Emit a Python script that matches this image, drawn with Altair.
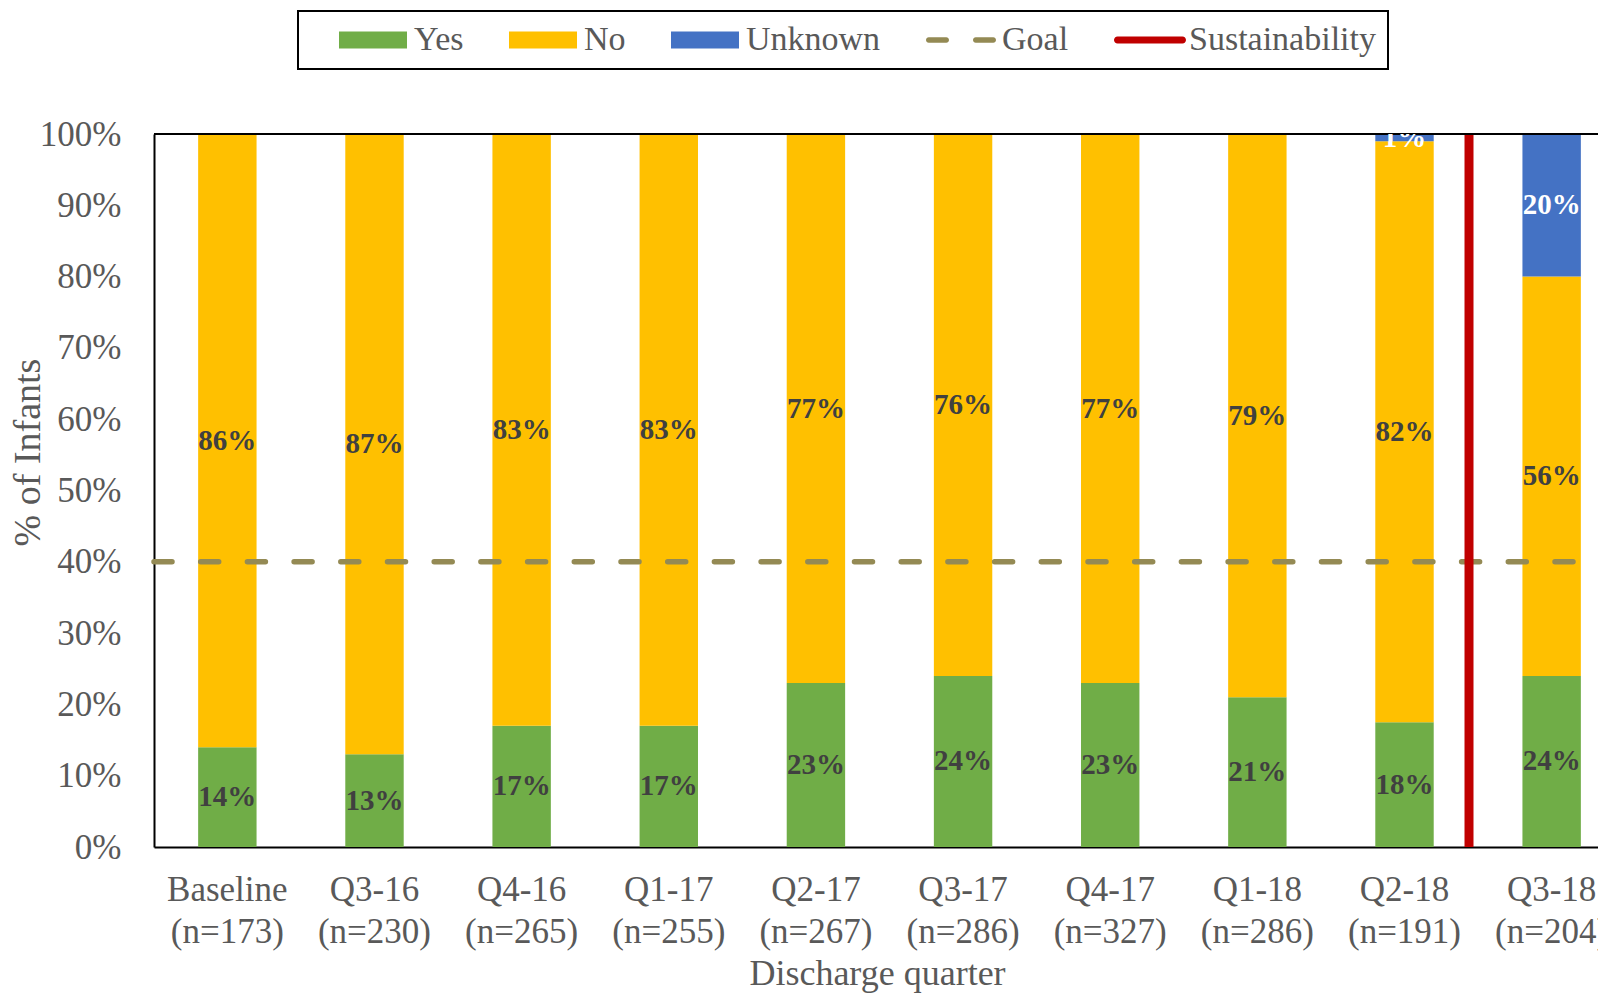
import altair as alt
import pandas as pd

# ---------------- data ----------------
QUARTERS = ["Baseline", "Q3-16", "Q4-16", "Q1-17", "Q2-17", "Q3-17", "Q4-17", "Q1-18", "Q2-18", "Q3-18"]
N_INFANTS = [173, 230, 265, 255, 267, 286, 327, 286, 191, 204]
YES = [14, 13, 17, 17, 23, 24, 23, 21, 17.5, 24]
NO = [86, 87, 83, 83, 77, 76, 77, 79, 81.5, 56]
UNKNOWN = [0, 0, 0, 0, 0, 0, 0, 0, 1, 20]
GOAL = [40]
SUSTAINABILITY_AFTER = ["Q2-18"]
TOP = [100]
Y_TICKS = list(range(0, 101, 10))
BAR_SERIES = ["Yes", "No", "Unknown"]
BAR_COLORS = ["#70AD47", "#FFC000", "#4472C4"]
LEGEND_SERIES = ["Yes", "No", "Unknown", "Goal", "Sustainability"]
LEGEND_COLORS = ["#70AD47", "#FFC000", "#4472C4", "#948A54", "#C00000"]

FONT = "Liberation Serif"
GREY = "#595959"

labels = [f"{q}|(n={n})" for q, n in zip(QUARTERS, N_INFANTS)]
rows = []
for lab, y, n, u in zip(labels, YES, NO, UNKNOWN):
    for order, (s, v) in enumerate(zip(BAR_SERIES, [y, n, u])):
        rows.append({"quarter": lab, "status": s, "value": v, "order": order})
df = pd.DataFrame(rows)

x_scale = alt.Scale(range=[0, 1471], paddingInner=0.603, paddingOuter=0.3)
y_scale = alt.Scale(domain=[0, 100], nice=False)

x_axis = alt.Axis(
    labelExpr="split(datum.label, '|')", labelAngle=0, ticks=False, tickSize=0,
    domainColor="black", domainWidth=2, labelFont=FONT, labelFontSize=35,
    labelColor=GREY, labelLineHeight=42, labelPadding=25, labelBaseline="top",
    labelLimit=400, title="Discharge quarter", titleFont=FONT, titleFontSize=36,
    titleColor=GREY, titleFontWeight="normal", titleX=723, titleY=137,
    titleAlign="center", titleBaseline="alphabetic", grid=False,
)
y_axis = alt.Axis(
    values=Y_TICKS, labelExpr="datum.value + '%'", grid=False, ticks=False, tickSize=0,
    domainColor="black", domainWidth=2, labelFont=FONT, labelFontSize=35,
    labelColor=GREY, labelPadding=33, title="% of Infants", titleFont=FONT,
    titleFontSize=38, titleColor=GREY, titleFontWeight="normal", titleX=-126,
    titleY=318, titleAngle=270, titleAlign="center", titleBaseline="middle",
)

X = alt.X("quarter:N", sort=labels, scale=x_scale, axis=x_axis)

base = (
    alt.Chart(df)
    .transform_filter("datum.value > 0")
    .transform_stack(stack="value", groupby=["quarter"], as_=["y0", "y1"],
                     sort=[alt.SortField("order", order="ascending")])
    .transform_calculate(mid="(datum.y0 + datum.y1) / 2",
                         txt="format(datum.value, '.0f') + '%'")
)

bars = base.mark_bar().encode(
    x=X,
    y=alt.Y("y0:Q", scale=y_scale, axis=y_axis),
    y2="y1:Q",
    color=alt.Color("status:N", scale=alt.Scale(domain=BAR_SERIES, range=BAR_COLORS), legend=None),
)

text = base.mark_text(font=FONT, fontSize=29, fontWeight="bold", clip=True, baseline="middle").encode(
    x=alt.X("quarter:N", sort=labels),
    y=alt.Y("mid:Q"),
    text="txt:N",
    color=alt.condition("datum.status == 'Unknown'", alt.value("white"), alt.value("#404040")),
)

goal = alt.Chart(pd.DataFrame({"goal": GOAL})).mark_rule(
    color="#948A54", strokeWidth=5.5, strokeDash=[18, 28.7], strokeCap="round", strokeDashOffset=21.7
).encode(y="goal:Q")

sustain = alt.Chart(pd.DataFrame({"quarter": [labels[QUARTERS.index(q)] for q in SUSTAINABILITY_AFTER]})).mark_rule(
    color="#C00000", strokeWidth=9, xOffset=64.5
).encode(x=alt.X("quarter:N", sort=labels))

top = alt.Chart(pd.DataFrame({"top": TOP})).mark_rule(color="black", strokeWidth=2).encode(y="top:Q")

# legend symbols (unit = 10 px with symbolSize 400)
RECT = "M-3.4,-0.85H3.4V0.85H-3.4Z"
DASH = ("M-3.225,-0.275H-1.475A0.275,0.275 0 0 1 -1.475,0.275H-3.225A0.275,0.275 0 0 1 -3.225,-0.275Z"
        "M1.475,-0.275H3.225A0.275,0.275 0 0 1 3.225,0.275H1.475A0.275,0.275 0 0 1 1.475,-0.275Z")
LINE = "M-3.05,-0.35H3.45A0.35,0.35 0 0 1 3.45,0.35H-3.05A0.35,0.35 0 0 1 -3.05,-0.35Z"
SHAPES = [RECT, RECT, RECT, DASH, LINE]

legend = alt.Legend(
    orient="none", legendX=144, legendY=-123, direction="horizontal",
    title=" ", titleOrient="left", titleFontSize=20, titlePadding=29,
    labelFont=FONT, labelFontSize=34, labelColor=GREY, labelOffset=24, labelLimit=400,
    symbolSize=400, symbolOffset=17, symbolStrokeWidth=0, symbolOpacity=1,
    columnPadding=45, padding=12, strokeColor="black", fillColor="white",
)

legend_pts = alt.Chart(pd.DataFrame({"series": LEGEND_SERIES})).mark_point(filled=True, opacity=0).encode(
    color=alt.Color("series:N", scale=alt.Scale(domain=LEGEND_SERIES, range=LEGEND_COLORS), legend=legend),
    shape=alt.Shape("series:N", scale=alt.Scale(domain=LEGEND_SERIES, range=SHAPES), legend=legend),
)

chart = (
    alt.layer(bars, goal, sustain, top, text, legend_pts)
    .resolve_scale(color="independent", shape="independent")
    .properties(
        width=1444, height=713,
        autosize=alt.AutoSizeParams(type="none"),
        padding={"left": 146, "top": 126, "right": 0, "bottom": 147},
        background="white",
    )
    .configure_view(stroke=None)
    .configure_legend(strokeWidth=2)
)

chart.save("out.html", embed_options={"renderer": "svg", "actions": False})
